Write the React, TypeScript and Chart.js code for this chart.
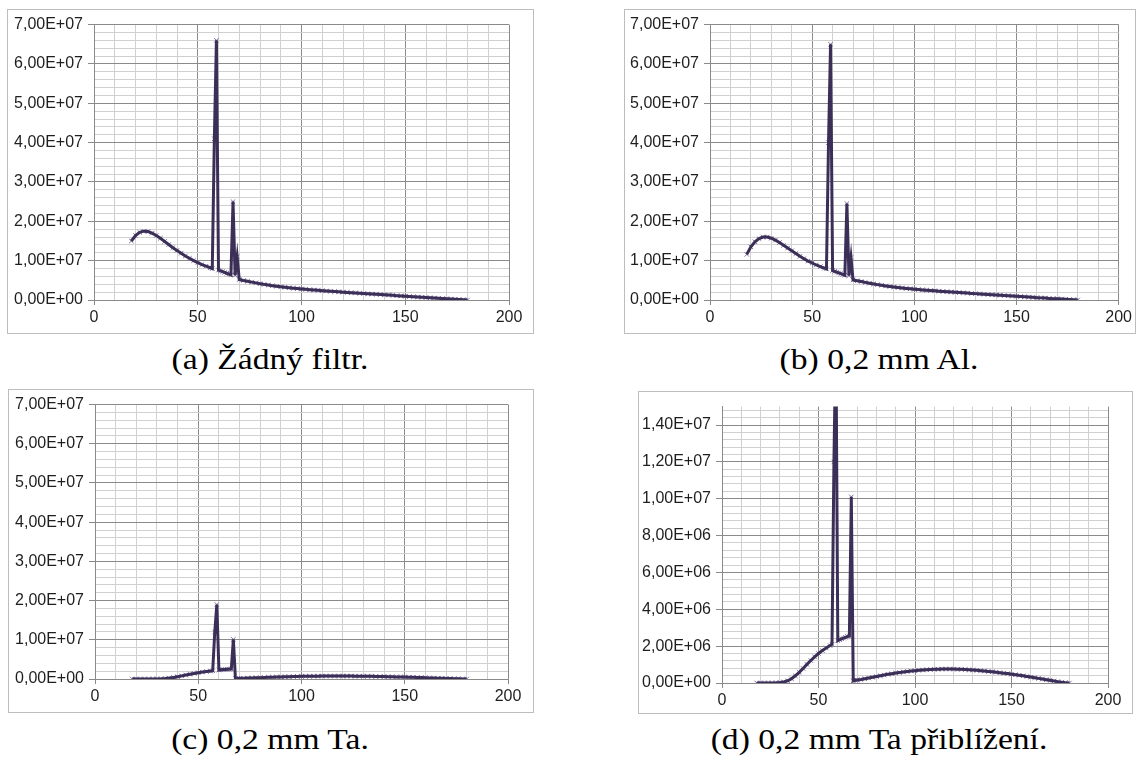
import React, { useEffect, useRef } from "react";
import { Chart, registerables } from "chart.js";

Chart.register(...registerables);

// ---- data (energy in keV, counts) ----
const energies = [
  18, 20, 22, 24, 26, 28, 30, 32, 34, 36, 38, 40, 42, 44, 46, 48, 50, 52, 54, 56,
  57, 58, 59, 60, 61, 62, 63, 64, 65, 66, 67, 68, 69, 70,
  72, 74, 76, 78, 80, 82, 84, 86, 88, 90, 92, 94, 96, 98, 100, 102, 104, 106, 108, 110,
  112, 114, 116, 118, 120, 122, 124, 126, 128, 130, 132, 134, 136, 138, 140, 142, 144, 146,
  148, 150, 152, 154, 156, 158, 160, 162, 164, 166, 168, 170, 172, 174, 176, 178, 180,
];

const noFilter = [
  1.5e7, 1.64e7, 1.72e7, 1.75e7, 1.74e7, 1.7e7, 1.64e7, 1.57e7, 1.49e7, 1.41e7, 1.33e7, 1.26e7,
  1.19e7, 1.12e7, 1.06e7, 1.0e7, 9.5e6, 9.0e6, 8.6e6, 8.2e6,
  8.0e6, 4.1e7, 6.6e7, 7.6e6, 7.4e6, 7.2e6, 7.0e6, 6.8e6, 6.6e6, 6.4e6, 2.5e7, 6.3e6, 1.1e7, 5.2e6,
  4.95e6, 4.75e6, 4.55e6, 4.35e6, 4.15e6, 3.97e6, 3.8e6, 3.64e6, 3.49e6, 3.35e6, 3.22e6, 3.1e6,
  2.99e6, 2.9e6, 2.8e6, 2.71e6, 2.62e6, 2.53e6, 2.45e6, 2.37e6, 2.29e6, 2.21e6, 2.14e6, 2.07e6,
  2.0e6, 1.93e6, 1.86e6, 1.79e6, 1.72e6, 1.65e6, 1.58e6, 1.52e6, 1.45e6, 1.39e6, 1.32e6, 1.25e6,
  1.18e6, 1.11e6, 1.04e6, 9.7e5, 9.0e5, 8.3e5, 7.6e5, 6.9e5, 6.2e5, 5.5e5, 4.9e5, 4.2e5, 3.6e5,
  3.0e5, 2.4e5, 1.8e5, 1.2e5, 6e4, 0,
];

const aluminium02 = [
  1.16e7, 1.35e7, 1.48e7, 1.56e7, 1.6e7, 1.6e7, 1.57e7, 1.52e7, 1.46e7, 1.39e7, 1.32e7, 1.25e7,
  1.18e7, 1.11e7, 1.05e7, 9.9e6, 9.4e6, 8.9e6, 8.5e6, 8.1e6,
  7.9e6, 4.0e7, 6.5e7, 7.5e6, 7.3e6, 7.1e6, 6.9e6, 6.7e6, 6.5e6, 6.3e6, 2.45e7, 6.2e6, 1.08e7, 5.1e6,
  4.88e6, 4.68e6, 4.48e6, 4.28e6, 4.09e6, 3.91e6, 3.74e6, 3.58e6, 3.43e6, 3.29e6, 3.16e6, 3.05e6,
  2.94e6, 2.85e6, 2.75e6, 2.66e6, 2.57e6, 2.49e6, 2.41e6, 2.33e6, 2.25e6, 2.17e6, 2.1e6, 2.03e6,
  1.96e6, 1.89e6, 1.82e6, 1.75e6, 1.68e6, 1.62e6, 1.55e6, 1.49e6, 1.42e6, 1.36e6, 1.29e6, 1.22e6,
  1.15e6, 1.08e6, 1.01e6, 9.4e5, 8.7e5, 8.1e5, 7.4e5, 6.7e5, 6.0e5, 5.4e5, 4.8e5, 4.1e5, 3.5e5,
  2.9e5, 2.3e5, 1.75e5, 1.15e5, 5.5e4, 0,
];

const tantalum02 = [
  1e3, 1e3, 2e3, 3e3, 5e3, 1.2e4, 3e4, 6e4, 1.2e5, 2.3e5, 3.9e5, 5.8e5, 7.9e5, 1.01e6, 1.22e6,
  1.42e6, 1.6e6, 1.76e6, 1.9e6, 2.03e6,
  2.1e6, 1.2e7, 1.9e7, 2.3e6, 2.35e6, 2.4e6, 2.44e6, 2.48e6, 2.52e6, 2.55e6, 1.01e7, 1.2e5, 1.5e5, 1.6e5,
  1.9e5, 2.3e5, 2.7e5, 3.1e5, 3.5e5, 3.9e5, 4.3e5, 4.7e5, 5.05e5, 5.4e5, 5.7e5, 6.0e5, 6.25e5,
  6.5e5, 6.7e5, 6.9e5, 7.05e5, 7.2e5, 7.3e5, 7.4e5, 7.5e5, 7.55e5, 7.6e5, 7.6e5, 7.55e5, 7.5e5,
  7.4e5, 7.3e5, 7.2e5, 7.05e5, 6.9e5, 6.7e5, 6.5e5, 6.3e5, 6.1e5, 5.85e5, 5.6e5, 5.35e5, 5.1e5,
  4.8e5, 4.5e5, 4.2e5, 3.9e5, 3.55e5, 3.2e5, 2.85e5, 2.5e5, 2.15e5, 1.8e5, 1.45e5, 1.1e5, 7.5e4,
  4.5e4, 2e4, 0,
];

const xTickLabels = ["0", "50", "100", "150", "200"];
const yTickLabelsFull = [
  "0,00E+00", "1,00E+07", "2,00E+07", "3,00E+07", "4,00E+07", "5,00E+07", "6,00E+07", "7,00E+07",
];
const yTickLabelsZoom = [
  "0,00E+00", "2,00E+06", "4,00E+06", "6,00E+06", "8,00E+06", "1,00E+07", "1,20E+07", "1,40E+07",
];
const captions = [
  "(a) Žádný filtr.",
  "(b) 0,2 mm Al.",
  "(c) 0,2 mm Ta.",
  "(d) 0,2 mm Ta přiblížení.",
];

// ---- styling / layout ----
const MAJOR = "#8a8a8a";
const MINOR = "#d0d0d0";
const LINE = "#3b2e57";
const MARK = "#8273a0";
const TEXT = "#1e1e1e";
const FONT = "'Liberation Sans', Arial, sans-serif";

const isMult = (v: number, step: number) => Math.abs(v / step - Math.round(v / step)) < 1e-6;
const gridValues = (max: number, step: number) => {
  const out: { value: number }[] = [];
  const n = Math.floor(max / step + 1e-9);
  for (let i = 0; i <= n; i++) out.push({ value: i * step });
  return out;
};

type PanelCfg = {
  values: number[];
  yMax: number;
  yMajor: number;
  yMinor: number;
  yLabels: string[];
  box: { left: number; top: number; width: number; height: number };
  yAxisW: number;
  xAxisH: number;
  padTop: number;
  padRight: number;
};

function Panel({ cfg }: { cfg: PanelCfg }) {
  const ref = useRef<HTMLCanvasElement | null>(null);
  useEffect(() => {
    if (!ref.current) return;
    const pts = energies.map((e, i) => ({ x: e, y: cfg.values[i] }));
    const chart = new Chart(ref.current, {
      type: "line",
      data: {
        datasets: [
          {
            data: pts,
            borderColor: LINE,
            borderWidth: 3,
            pointRadius: 0,
            tension: 0,
            order: 1,
          },
          {
            data: pts,
            showLine: false,
            pointStyle: "crossRot",
            pointRadius: 3.2,
            pointBorderWidth: 1,
            pointBorderColor: MARK,
            pointBackgroundColor: MARK,
            order: 2,
          },
        ],
      },
      options: {
        responsive: false,
        animation: false,
        events: [],
        layout: { padding: { top: cfg.padTop, right: cfg.padRight, left: 0, bottom: 0 } },
        plugins: { legend: { display: false }, tooltip: { enabled: false } },
        scales: {
          x: {
            type: "linear",
            min: 0,
            max: 200,
            afterFit: (s: any) => {
              s.height = cfg.xAxisH;
            },
            afterBuildTicks: (s: any) => {
              s.ticks = gridValues(200, 10);
            },
            ticks: {
              autoSkip: false,
              maxRotation: 0,
              padding: 3,
              color: TEXT,
              font: { family: FONT, size: 16 },
              callback: (v: any) => (isMult(Number(v), 50) ? xTickLabels[Math.round(Number(v) / 50)] : ""),
            },
            grid: {
              drawTicks: true,
              tickLength: 5,
              color: (c: any) => (isMult(c.tick.value, 50) ? MAJOR : MINOR),
              tickColor: (c: any) => (isMult(c.tick.value, 50) ? MAJOR : "rgba(0,0,0,0)"),
            },
            border: { display: true, color: MAJOR },
          },
          y: {
            type: "linear",
            min: 0,
            max: cfg.yMax,
            afterFit: (s: any) => {
              s.width = cfg.yAxisW;
            },
            afterBuildTicks: (s: any) => {
              s.ticks = gridValues(cfg.yMax, cfg.yMinor);
            },
            ticks: {
              autoSkip: false,
              padding: 5,
              color: TEXT,
              font: { family: FONT, size: 16 },
              callback: (v: any) =>
                isMult(Number(v), cfg.yMajor) ? cfg.yLabels[Math.round(Number(v) / cfg.yMajor)] : "",
            },
            grid: {
              drawTicks: true,
              tickLength: 6,
              color: (c: any) => (isMult(c.tick.value, cfg.yMajor) ? MAJOR : MINOR),
              tickColor: (c: any) => (isMult(c.tick.value, cfg.yMajor) ? MAJOR : "rgba(0,0,0,0)"),
            },
            border: { display: true, color: MAJOR },
          },
        },
      } as any,
    });
    return () => chart.destroy();
  }, [cfg]);
  const { left, top, width, height } = cfg.box;
  return (
    <div
      style={{
        position: "absolute",
        left,
        top,
        width: width - 2,
        height: height - 2,
        border: "1px solid #bdbdbd",
        background: "#fff",
      }}
    >
      <canvas ref={ref} width={width - 2} height={height - 2} style={{ display: "block" }} />
    </div>
  );
}

const panels: PanelCfg[] = [
  {
    values: noFilter, yMax: 7e7, yMajor: 1e7, yMinor: 2e6, yLabels: yTickLabelsFull,
    box: { left: 7, top: 9, width: 527, height: 325 },
    yAxisW: 86, xAxisH: 33, padTop: 13, padRight: 24,
  },
  {
    values: aluminium02, yMax: 7e7, yMajor: 1e7, yMinor: 2e6, yLabels: yTickLabelsFull,
    box: { left: 624, top: 9, width: 512, height: 325 },
    yAxisW: 85, xAxisH: 33, padTop: 13, padRight: 10,
  },
  {
    values: tantalum02, yMax: 7e7, yMajor: 1e7, yMinor: 2e6, yLabels: yTickLabelsFull,
    box: { left: 8, top: 389, width: 526, height: 324 },
    yAxisW: 86, xAxisH: 33, padTop: 13, padRight: 25,
  },
  {
    values: tantalum02, yMax: 1.5e7, yMajor: 2e6, yMinor: 4e5, yLabels: yTickLabelsZoom,
    box: { left: 638, top: 391, width: 495, height: 323 },
    yAxisW: 83, xAxisH: 30, padTop: 11, padRight: 24,
  },
];

const captionPos = [
  { cx: 270, cy: 359 },
  { cx: 879, cy: 359 },
  { cx: 270, cy: 739 },
  { cx: 879, cy: 739 },
];

export default function App() {
  return (
    <div
      style={{
        position: "absolute",
        left: 0,
        top: 0,
        width: 1140,
        height: 762,
        background: "#fff",
        overflow: "hidden",
      }}
    >
      {panels.map((p, i) => (
        <Panel key={i} cfg={p} />
      ))}
      {captions.map((c, i) => (
        <div
          key={"c" + i}
          style={{
            position: "absolute",
            left: captionPos[i].cx - 250,
            width: 500,
            top: captionPos[i].cy - 19,
            height: 38,
            lineHeight: "38px",
            textAlign: "center",
            fontFamily: "'Liberation Serif', 'DejaVu Serif', serif",
            fontSize: 30,
            color: "#000",
            whiteSpace: "nowrap",
            transform: "scaleX(1.12)",
          }}
        >
          {c}
        </div>
      ))}
    </div>
  );
}
